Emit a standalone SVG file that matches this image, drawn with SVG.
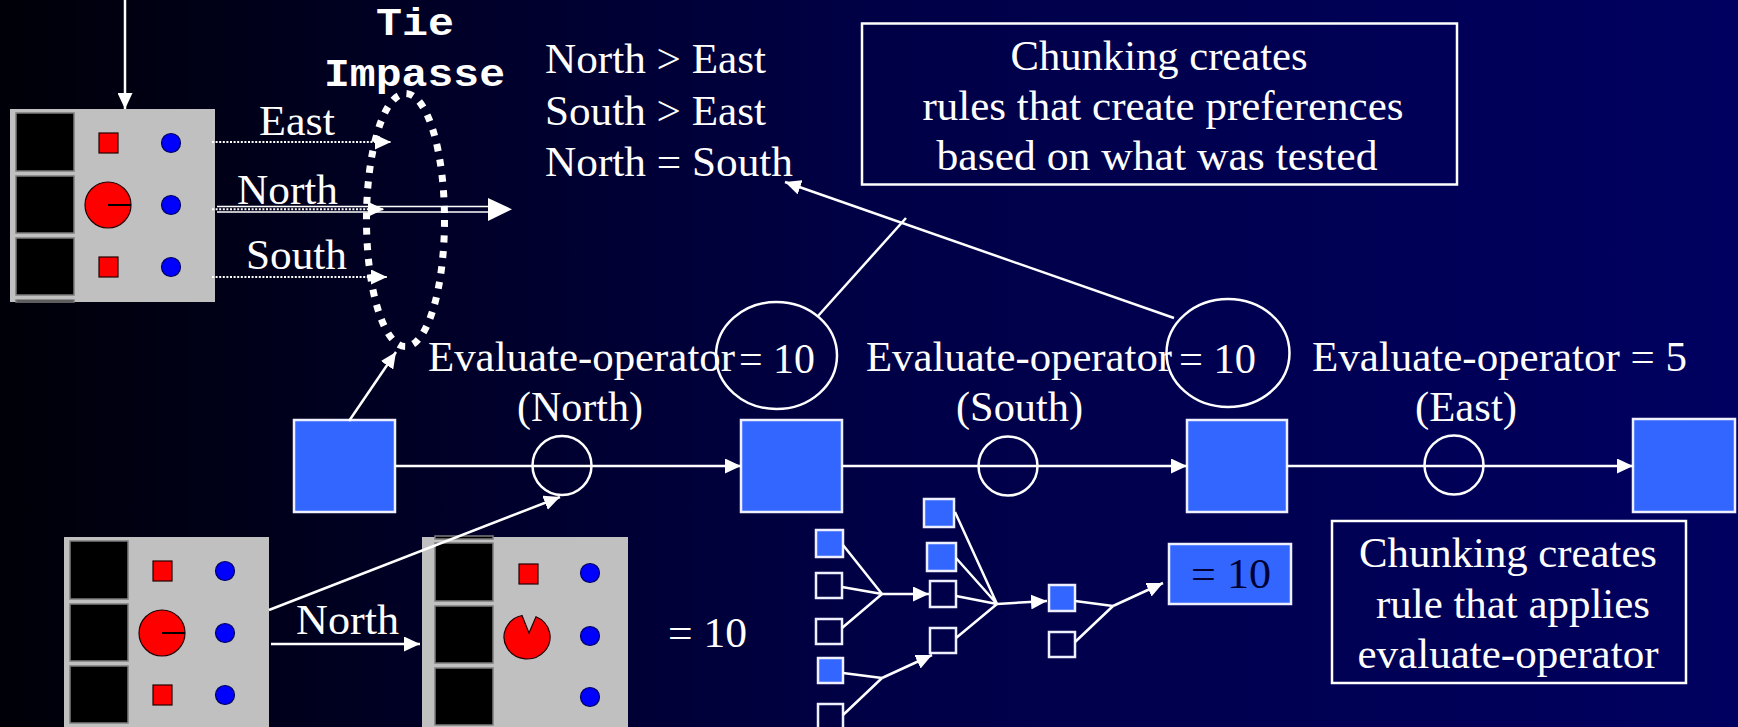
<svg xmlns="http://www.w3.org/2000/svg" width="1738" height="727" viewBox="0 0 1738 727">
<style>
  .t { font-family: "Liberation Serif", "Times New Roman", serif; font-size: 42px; fill: #ffffff; }
  .dark { fill: #000033; }
  .mono { font-family: "Liberation Mono", "Courier New", monospace; font-weight: bold; font-size: 38px; fill: #ffffff; }
  .ln { stroke: #ffffff; stroke-width: 2.5; fill: none; }
  .thin { stroke: #ffffff; stroke-width: 1.6; fill: none; }
  .dot { stroke: #ffffff; stroke-width: 2; stroke-dasharray: 2 1.6; fill: none; }
  .tie { stroke: #ffffff; stroke-width: 7; stroke-dasharray: 7 8.5; fill: none; }
  .sq { fill: #3366ff; stroke: #eef0ff; stroke-width: 2.5; }
  .sqe { fill: none; stroke: #eef0ff; stroke-width: 2.5; }
  .box { fill: none; stroke: #ffffff; stroke-width: 2.5; }
  .panel { fill: #c0c0c0; }
  .cell { fill: #000000; stroke: #7c7c7c; stroke-width: 1.5; }
  .red { fill: #ff0000; stroke: #220000; stroke-width: 1.2; }
  .blu { fill: #0000ff; stroke: #000060; stroke-width: 1.2; }
  .ptr { stroke: #000000; stroke-width: 2; }
</style>
<defs>
  <linearGradient id="bg" x1="0" y1="0" x2="1" y2="0">
    <stop offset="0" stop-color="#000008"/>
    <stop offset="0.5" stop-color="#000046"/>
    <stop offset="1" stop-color="#000060"/>
  </linearGradient>
  <marker id="head" markerUnits="userSpaceOnUse" markerWidth="16" markerHeight="15" refX="16" refY="7.5" orient="auto">
    <path d="M0,0 L16,7.5 L0,15 Z" fill="#ffffff"/>
  </marker>
  <!-- grid board: three rows, piece column and pellet column -->
  <g id="board">
    <rect class="panel" x="10" y="109" width="205" height="193"/>
    <rect class="cell" x="16" y="113" width="58" height="58"/>
    <rect class="cell" x="16" y="176" width="58" height="57"/>
    <rect class="cell" x="16" y="238" width="58" height="57"/>
    <rect class="cell" x="16" y="300" width="58" height="2"/>
    <rect class="red" x="99" y="133" width="19" height="20"/>
    <circle class="blu" cx="171" cy="143" r="9.5"/>
    <circle class="red" cx="108" cy="205" r="23"/>
    <line class="ptr" x1="108" y1="205" x2="131" y2="205"/>
    <circle class="blu" cx="171" cy="205" r="9.5"/>
    <rect class="red" x="99" y="257" width="19" height="20"/>
    <circle class="blu" cx="171" cy="267" r="9.5"/>
  </g>
</defs>

<rect x="0" y="0" width="1738" height="727" fill="url(#bg)"/>

<!-- boards -->
<g id="board-top"><use href="#board"/></g>
<g id="board-before"><use href="#board" transform="translate(54 428)"/></g>
<g id="board-after">
  <rect class="panel" x="422" y="537" width="206" height="190"/>
  <rect class="cell" x="435" y="536" width="58" height="3"/>
  <rect class="cell" x="435" y="543" width="58" height="58"/>
  <rect class="cell" x="435" y="606" width="58" height="57"/>
  <rect class="cell" x="435" y="668" width="58" height="57"/>
  <rect class="red" x="519" y="564" width="19" height="20"/>
  <circle class="blu" cx="590" cy="573" r="9.5"/>
  <path class="red" d="M529,633 L536,616.7 A23 22 0 1 1 522,615.5 Z"/>
  <circle class="blu" cx="590" cy="636" r="9.5"/>
  <circle class="blu" cx="590" cy="697" r="9.5"/>
</g>

<!-- tie impasse -->
<g id="tie-impasse">
  <ellipse class="tie" cx="405.5" cy="220" rx="39" ry="126.5"/>
  <text class="mono" x="376" y="35" textLength="78" lengthAdjust="spacingAndGlyphs">Tie</text>
  <text class="mono" x="324" y="86" textLength="181" lengthAdjust="spacingAndGlyphs">Impasse</text>
</g>

<g id="preferences">
  <text class="t" x="545" y="73" textLength="221" lengthAdjust="spacingAndGlyphs">North &gt; East</text>
  <text class="t" x="545" y="125" textLength="221" lengthAdjust="spacingAndGlyphs">South &gt; East</text>
  <text class="t" x="545" y="176" textLength="248" lengthAdjust="spacingAndGlyphs">North = South</text>
</g>

<g id="note-preferences">
  <rect class="box" x="862" y="23.5" width="595" height="161"/>
  <text class="t" x="1159" y="70" text-anchor="middle" textLength="297" lengthAdjust="spacingAndGlyphs">Chunking creates</text>
  <text class="t" x="1163" y="120" text-anchor="middle" textLength="481" lengthAdjust="spacingAndGlyphs">rules that create preferences</text>
  <text class="t" x="1157" y="170" text-anchor="middle" textLength="441" lengthAdjust="spacingAndGlyphs">based on what was tested</text>
</g>

<!-- states -->
<g id="state-1"><rect class="sq" x="294" y="420" width="101" height="92"/></g>
<g id="state-2"><rect class="sq" x="741" y="420" width="101" height="92"/></g>
<g id="state-3"><rect class="sq" x="1187" y="420" width="100" height="92"/></g>
<g id="state-4"><rect class="sq" x="1633" y="419" width="102" height="93"/></g>

<!-- evaluate operators -->
<g id="op-north">
  <circle class="ln" cx="562" cy="465.5" r="29.5"/>
  <text class="t" x="428" y="371" textLength="307" lengthAdjust="spacingAndGlyphs">Evaluate-operator</text>
  <text class="t" x="517" y="421" textLength="126" lengthAdjust="spacingAndGlyphs">(North)</text>
</g>
<g id="value-north">
  <ellipse class="ln" cx="776.5" cy="355.5" rx="60.5" ry="53.5"/>
  <text class="t" x="739" y="373" textLength="76" lengthAdjust="spacingAndGlyphs">= 10</text>
</g>
<g id="op-south">
  <circle class="ln" cx="1008" cy="466" r="29.5"/>
  <text class="t" x="866" y="371" textLength="306" lengthAdjust="spacingAndGlyphs">Evaluate-operator</text>
  <text class="t" x="956" y="421" textLength="127" lengthAdjust="spacingAndGlyphs">(South)</text>
</g>
<g id="value-south">
  <ellipse class="ln" cx="1228" cy="353" rx="61.5" ry="54"/>
  <text class="t" x="1179" y="373" textLength="77" lengthAdjust="spacingAndGlyphs">= 10</text>
</g>
<g id="op-east">
  <circle class="ln" cx="1454" cy="465" r="29.5"/>
  <text class="t" x="1312" y="371" textLength="375" lengthAdjust="spacingAndGlyphs">Evaluate-operator = 5</text>
  <text class="t" x="1415" y="421" textLength="102" lengthAdjust="spacingAndGlyphs">(East)</text>
</g>

<g id="value-result">
  <text class="t" x="668" y="647" textLength="79" lengthAdjust="spacingAndGlyphs">= 10</text>
</g>

<!-- chunked rule network -->
<g id="rule-network">
  <rect class="sq" x="816" y="530" width="27" height="27"/>
  <rect class="sqe" x="816" y="573" width="26" height="25"/>
  <rect class="sqe" x="816" y="619" width="26" height="25"/>
  <rect class="sq" x="818" y="658" width="25" height="25"/>
  <rect class="sqe" x="818" y="704" width="25" height="25"/>
  <rect class="sq" x="924" y="499" width="30" height="28"/>
  <rect class="sq" x="927" y="543" width="29" height="28"/>
  <rect class="sqe" x="930" y="581" width="26" height="26"/>
  <rect class="sqe" x="930" y="628" width="26" height="25"/>
  <rect class="sq" x="1049" y="585" width="26" height="26"/>
  <rect class="sqe" x="1049" y="632" width="26" height="25"/>
</g>
<g id="rule-result">
  <rect class="sq" x="1169" y="544" width="122" height="60"/>
  <text class="t dark" x="1191" y="588" textLength="80" lengthAdjust="spacingAndGlyphs">= 10</text>
</g>

<g id="note-apply">
  <rect class="box" x="1332" y="521" width="354" height="162"/>
  <text class="t" x="1508" y="567" text-anchor="middle" textLength="298" lengthAdjust="spacingAndGlyphs">Chunking creates</text>
  <text class="t" x="1513" y="618" text-anchor="middle" textLength="274" lengthAdjust="spacingAndGlyphs">rule that applies</text>
  <text class="t" x="1508" y="668" text-anchor="middle" textLength="301" lengthAdjust="spacingAndGlyphs">evaluate-operator</text>
</g>

<!-- connectors -->
<g id="connectors">
  <line class="ln" x1="125" y1="0" x2="125" y2="109" marker-end="url(#head)"/>

  <line class="dot" x1="212" y1="142" x2="391" y2="142" marker-end="url(#head)"/>
  <line class="thin" x1="217" y1="206.5" x2="490" y2="206.5"/>
  <line class="thin" x1="217" y1="212" x2="490" y2="212"/>
  <polygon points="488,198 512,209.3 488,221" fill="#ffffff"/>
  <line class="dot" x1="212" y1="209.3" x2="384" y2="209.3" marker-end="url(#head)"/>
  <line class="dot" x1="212" y1="277" x2="387" y2="277" marker-end="url(#head)"/>
  <text class="t" x="259" y="135" textLength="76" lengthAdjust="spacingAndGlyphs">East</text>
  <text class="t" x="237" y="204" textLength="101" lengthAdjust="spacingAndGlyphs">North</text>
  <text class="t" x="246" y="269" textLength="101" lengthAdjust="spacingAndGlyphs">South</text>

  <line class="ln" x1="349" y1="421" x2="396" y2="352" marker-end="url(#head)"/>

  <line class="ln" x1="395" y1="466" x2="741" y2="466" marker-end="url(#head)"/>
  <line class="ln" x1="842" y1="466" x2="1187" y2="466" marker-end="url(#head)"/>
  <line class="ln" x1="1287" y1="466" x2="1633" y2="466" marker-end="url(#head)"/>

  <line class="ln" x1="818" y1="316" x2="906" y2="218"/>
  <line class="ln" x1="1174" y1="318" x2="785" y2="182" marker-end="url(#head)"/>

  <line class="ln" x1="269" y1="610" x2="560" y2="497" marker-end="url(#head)"/>
  <line class="ln" x1="271" y1="644" x2="420" y2="644" marker-end="url(#head)"/>
  <text class="t" x="296" y="634" textLength="103" lengthAdjust="spacingAndGlyphs">North</text>

  <path class="ln" d="M843,545 L882,594 M842,587 L882,594 M842,628 L882,594"/>
  <line class="ln" x1="882" y1="594" x2="929" y2="594" marker-end="url(#head)"/>
  <path class="ln" d="M955,512 L997,604 M956,558 L997,604 M956,596 L997,604 M956,638 L997,604"/>
  <line class="ln" x1="997" y1="604" x2="1047" y2="601" marker-end="url(#head)"/>
  <path class="ln" d="M1075,601 L1113,606 M1075,642 L1113,606"/>
  <line class="ln" x1="1113" y1="606" x2="1163" y2="583" marker-end="url(#head)"/>
  <path class="ln" d="M843,673 L882,678 M843,715 L882,678"/>
  <line class="ln" x1="882" y1="678" x2="932" y2="655" marker-end="url(#head)"/>
</g>
</svg>
